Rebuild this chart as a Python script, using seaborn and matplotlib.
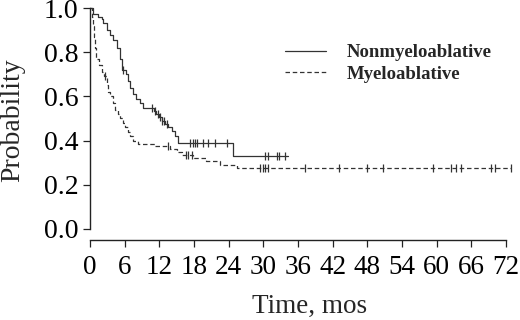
import numpy as np
import pandas as pd
import matplotlib
matplotlib.use("Agg")
import matplotlib.pyplot as plt
import seaborn as sns
from matplotlib.lines import Line2D

# ---- data ----
non_t = [0, 0.6, 1.4, 2.0, 2.3, 2.9, 3.5, 4.0, 4.6, 5.2, 5.6, 6.2, 6.6, 7.0, 7.4,
         8.0, 8.6, 9.1, 11.0, 11.5, 12.0, 12.5, 13.0, 13.5, 14.2, 14.8, 15.2, 24.7, 34.3]
non_s = [1.0, 0.975, 0.96, 0.95, 0.93, 0.90, 0.88, 0.855, 0.82, 0.77, 0.72, 0.70, 0.67,
         0.64, 0.61, 0.59, 0.57, 0.546, 0.535, 0.52, 0.505, 0.49, 0.475, 0.46, 0.445,
         0.42, 0.39, 0.33, 0.33]
non_cens = [5.7, 10.7, 11.3, 11.8, 12.1, 12.5, 12.8, 13.3, 17.3, 17.8, 18.2, 18.5,
            19.5, 20.4, 21.6, 23.7, 30.3, 30.8, 32.4, 32.7, 33.8]

mye_t = [0, 0.3, 0.5, 0.7, 0.9, 1.1, 1.5, 2.0, 2.4, 2.9, 3.2, 3.5, 3.9, 4.3, 4.8, 5.2,
         5.7, 6.1, 6.5, 6.9, 7.5, 8.3, 11.2, 13.8, 15.0, 16.0, 17.8, 20.0, 22.5, 25.4, 72.9]
mye_s = [1.0, 0.96, 0.92, 0.87, 0.82, 0.77, 0.74, 0.71, 0.69, 0.65, 0.62, 0.60, 0.57,
         0.54, 0.52, 0.50, 0.48, 0.46, 0.44, 0.42, 0.40, 0.385, 0.375, 0.36, 0.35, 0.335,
         0.32, 0.307, 0.29, 0.275, 0.275]
mye_cens = [2.6, 13.5, 16.7, 17.0, 17.6, 29.4, 29.9, 30.3, 30.9, 37.2, 43.1, 47.9,
            50.7, 59.4, 62.5, 63.3, 64.2, 69.4, 70.2, 72.9]

groups = ["Nonmyeloablative", "Myeloablative"]
x_ticks = [0, 6, 12, 18, 24, 30, 36, 42, 48, 54, 60, 66, 72]
y_ticks = [0.0, 0.2, 0.4, 0.6, 0.8, 1.0]


def step_value(times, surv, t):
    i = np.searchsorted(np.asarray(times), t, side="right") - 1
    return np.asarray(surv)[i]


sns.set_style("ticks")
plt.rcParams["font.family"] = ["Liberation Serif", "DejaVu Serif"]

fig = plt.figure(figsize=(5.2, 3.2), dpi=100)
ax_h = 232
ax_w = 424.5
ax = fig.add_axes([90 / 520, 1 - 240 / 320, ax_w / 520, ax_h / 320])

col = "#333333"
curves = [(non_t, non_s, non_cens, None), (mye_t, mye_s, mye_cens, (3.6, 2.2))]
for name, (t, s, cens, dash) in zip(groups, curves):
    df = pd.DataFrame({"t": t, "s": s})
    sns.lineplot(data=df, x="t", y="s", color=col, linewidth=0.9,
                 drawstyle="steps-post", estimator=None, sort=False, ax=ax, legend=False)
    ln = ax.get_lines()[-1]
    ln.set_clip_on(False)
    if dash is not None:
        ln.set_dashes(dash)
    cdf = pd.DataFrame({"t": cens, "s": [step_value(t, s, c) for c in cens]})
    sns.scatterplot(data=cdf, x="t", y="s", marker="|", s=40, color=col,
                    linewidth=0.9, ax=ax, legend=False)
    ax.collections[-1].set_clip_on(False)

ax.set_xlim(0, 73.5)
ax.set_ylim(-0.05, 1.0)
ax.set_xticks(x_ticks)
ax.set_xticklabels([str(v) for v in x_ticks])
ax.set_yticks(y_ticks)
ax.set_yticklabels([f"{v:.1f}" for v in y_ticks])
ax.spines["top"].set_visible(False)
ax.spines["right"].set_visible(False)
ax.spines["left"].set_bounds(0, 1.0)
ax.spines["bottom"].set_bounds(0, 72)
for sp in ("left", "bottom"):
    ax.spines[sp].set_color("#222222")
    ax.spines[sp].set_linewidth(1.0)
ax.tick_params(axis="both", direction="out", length=5, width=0.9, colors="#222222",
               labelcolor="black")
ax.tick_params(axis="x", labelsize=19.5, pad=6)
ax.tick_params(axis="y", labelsize=20, pad=3.5)
ax.set_xlabel("Time, mos", fontsize=19.5)
ax.set_ylabel("Probability", fontsize=20)
ax.xaxis.set_label_coords((310 - 90) / ax_w, -(294 - 240) / ax_h)
ax.yaxis.set_label_coords((25 - 90) / ax_w, 1 - (120 - 8) / ax_h)

handles = [Line2D([], [], color=col, lw=0.9),
           Line2D([], [], color=col, lw=0.9, dashes=(3.6, 2.2))]
ax.legend(handles, groups, loc="upper left", bbox_to_anchor=(195 / ax_w, 1 - 36 / ax_h),
          frameon=False, prop={"family": "Liberation Serif", "weight": "bold", "size": 13.5},
          handlelength=2.2, handletextpad=1.1, labelspacing=0.25, borderpad=0,
          borderaxespad=0)

fig.savefig("out.png", dpi=100)
